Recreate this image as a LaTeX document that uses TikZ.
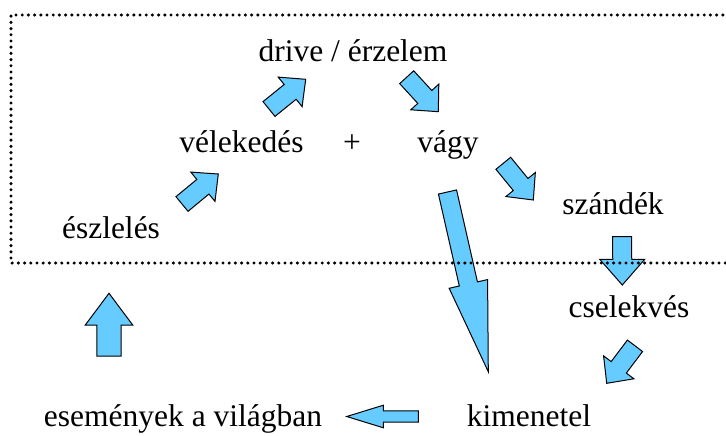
\documentclass[tikz,border=0pt]{standalone}
\usepackage{fontspec}
\setmainfont{Liberation Serif}
\usetikzlibrary{calc}
\definecolor{arrowblue}{HTML}{66CCFF}
\tikzset{
  lbl/.style={anchor=base, inner sep=0pt, font=\fontsize{31.5}{36}\selectfont},
  barrowstyle/.style={fill=arrowblue, draw=black, line width=1pt, line join=miter},
  dotframe/.style={line width=3.4pt, line cap=round, dash pattern=on 0pt off 6.2pt}
}
% block arrow: tail, tip, shaft half width, head half width, head length
\newcommand{\blockarr}[5]{%
  \path (#1) coordinate (bt) (#2) coordinate (bp);
  \coordinate (bn) at ($(bp)!#5!(bt)$);
  \filldraw[barrowstyle] ($(bt)!#3!90:(bp)$) -- ($(bn)!#3!-90:(bt)$) -- ($(bn)!#4!-90:(bt)$)
    -- (bp) -- ($(bn)!#4!90:(bt)$) -- ($(bn)!#3!90:(bt)$) -- ($(bt)!#3!-90:(bp)$) -- cycle;
}
\begin{document}
\begin{tikzpicture}[x=1pt,y=-1pt]
\useasboundingbox (0,0) rectangle (726,436);
\fill[white] (0,0) rectangle (726,436);
% text nodes
\node[lbl] (drive) at (353,62) {drive / érzelem};
\node[lbl] (velek) at (241.5,152) {vélekedés};
\node[lbl] (plus) at (352,152) {+};
\node[lbl] (vagy) at (448,152) {vágy};
\node[lbl] (eszl) at (111,238) {észlelés};
\node[lbl] (szand) at (613,214) {szándék};
\node[lbl] (csel) at (629,317) {cselekvés};
\node[lbl] (esem) at (183,426) {események a világban};
\node[lbl] (kimen) at (529,426) {kimenetel};
% arrow end points
\coordinate (a1t) at (182,204);   \coordinate (a1p) at (218.3,174);
\coordinate (a2t) at (269,109);   \coordinate (a2p) at (305.7,79.3);
\coordinate (a3t) at (406.7,77.2);\coordinate (a3p) at (438.3,111.7);
\coordinate (a4t) at (503.3,163.3);\coordinate (a4p) at (533.3,200);
\coordinate (a5t) at (622.2,236.7);\coordinate (a5p) at (622.3,285);
\coordinate (a6t) at (635,345.8); \coordinate (a6p) at (606.7,383.3);
\coordinate (a7t) at (447.5,192); \coordinate (a7p) at (488.3,371.7);
\coordinate (a8t) at (109,356);   \coordinate (a8p) at (109,293.3);
\coordinate (a9t) at (418.3,416.5);\coordinate (a9p) at (346.7,416.5);
% block arrows
\blockarr{a1t}{a1p}{9.5pt}{19pt}{20pt}
\blockarr{a2t}{a2p}{9.5pt}{19pt}{20pt}
\blockarr{a3t}{a3p}{9.5pt}{19pt}{20pt}
\blockarr{a4t}{a4p}{9.5pt}{19pt}{20pt}
\blockarr{a5t}{a5p}{9.5pt}{22.5pt}{25.7pt}
\blockarr{a6t}{a6p}{9.5pt}{19pt}{20pt}
\blockarr{a7t}{a7p}{9.3pt}{19.7pt}{90pt}
\blockarr{a8t}{a8p}{12.2pt}{23.7pt}{31.7pt}
\blockarr{a9t}{a9p}{5.7pt}{11.3pt}{36.7pt}
% dotted frame (drawn over the arrows)
\draw[dotframe] (760,15) -- (11,15) -- (11,263) -- (760,263);
\end{tikzpicture}
\end{document}
